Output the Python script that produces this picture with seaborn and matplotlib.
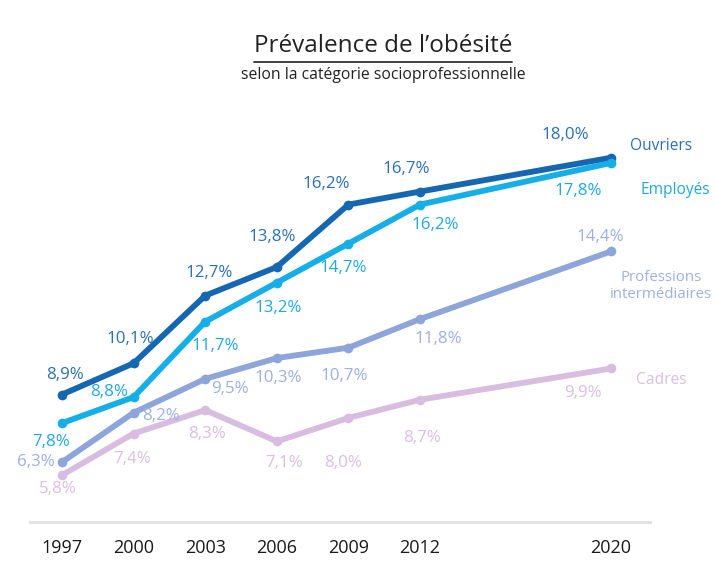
import matplotlib
matplotlib.use("Agg")
import matplotlib.pyplot as plt
from matplotlib.lines import Line2D
import seaborn as sns
import pandas as pd

years = [1997, 2000, 2003, 2006, 2009, 2012, 2020]
ouvriers = [8.9, 10.1, 12.7, 13.8, 16.2, 16.7, 18.0]
employes = [7.8, 8.8, 11.7, 13.2, 14.7, 16.2, 17.8]
professions = [6.3, 8.2, 9.5, 10.3, 10.7, 11.8, 14.4]
cadres = [5.8, 7.4, 8.3, 7.1, 8.0, 8.7, 9.9]
series_names = ["Ouvriers", "Employés", "Professions\nintermédiaires", "Cadres"]
title = "Prévalence de l\u2019obésité"
subtitle = "selon la catégorie socioprofessionnelle"

line_colors = ["#1567b2", "#16aee6", "#8ea5da", "#d9bde0"]
text_colors = ["#2a70b5", "#1fa9e0", "#9db0df", "#d9bfe0"]

series_values = [ouvriers, employes, professions, cadres]
df = pd.DataFrame(
    [(y, v, n) for n, vals in zip(series_names, series_values) for y, v in zip(years, vals)],
    columns=["year", "value", "series"],
)

sns.set_theme(style="white")
FONT = ["Open Sans", "DejaVu Sans"]
plt.rcParams["font.family"] = FONT

fig = plt.figure(figsize=(7.15, 5.82), dpi=100)
ax = fig.add_axes([30 / 715, 60 / 582, 620 / 715, 402 / 582])

sns.lineplot(
    data=df, x="year", y="value", hue="series", hue_order=series_names,
    palette=dict(zip(series_names, line_colors)), marker="o", markersize=7,
    markeredgewidth=0, linewidth=4.2, legend=False, ax=ax,
)

ax.set_xlim(1995.66, 2021.63)
ax.set_ylim(4.0, 19.45)
ax.set_xticks(years)
ax.set_xticklabels([str(y) for y in years], fontsize=13, color="#1a1a1a")
ax.set_yticks([])
ax.set_xlabel("")
ax.set_ylabel("")
ax.tick_params(axis="x", length=0, pad=12)
for s in ["top", "left", "right"]:
    ax.spines[s].set_visible(False)
ax.spines["bottom"].set_color("#e2e2e2")
ax.spines["bottom"].set_linewidth(2.2)
ax.patch.set_alpha(0)

# label offsets in pixels (dx, dy) from each point
offsets = [
    [(3, 20), (-3, 24), (4, 23), (-5, 30), (-22, 21), (-14, 23), (-46, 23)],
    [(-11, -19), (-25, 5), (10, -24), (1, -25), (-5, -24), (15, -20), (-33, -28)],
    [(-26, 0), (27, -3), (25, -10), (1, -20), (-4, -28), (18, -20), (-11, 14)],
    [(-4, -14), (-1, -25), (2, -24), (7, -22), (-5, -45), (2, -38), (-28, -25)],
]
for vals, offs, col in zip(series_values, offsets, text_colors):
    for x, v, (dx, dy) in zip(years, vals, offs):
        ax.annotate(f"{v:.1f}%".replace(".", ","), (x, v), xytext=(dx, dy),
                    textcoords="offset pixels", ha="center", va="center",
                    fontsize=12.2, color=col)

# series names at right
name_pos = [(661, 146), (675, 190), (661, 286), (661, 380)]
name_sizes = [11.2, 11.2, 10.8, 11.2]
for name, (px, py), col, fs in zip(series_names, name_pos, text_colors, name_sizes):
    fig.text(px / 715, 1 - py / 582, name, ha="center", va="center",
             fontsize=fs, color=col, linespacing=1.25)

fig.text(383 / 715, 1 - 46 / 582, title, ha="center", va="center",
         fontsize=17.5, color="#222222")
fig.add_artist(Line2D([254 / 715, 512 / 715], [1 - 62 / 582, 1 - 62 / 582],
                      color="#333333", linewidth=1.3))
fig.text(383 / 715, 1 - 75 / 582, subtitle, ha="center", va="center",
         fontsize=11.3, color="#222222")

fig.savefig("out.png", dpi=100, facecolor="white")
